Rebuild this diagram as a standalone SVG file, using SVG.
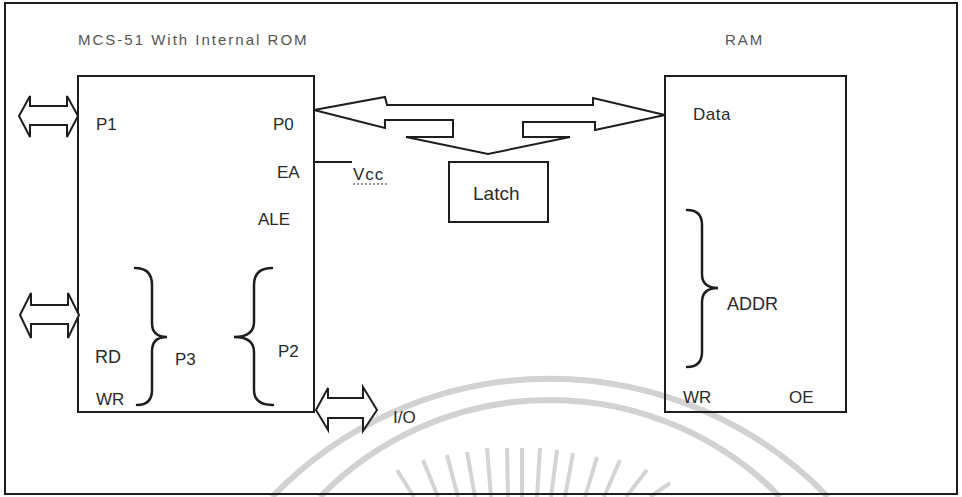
<svg xmlns="http://www.w3.org/2000/svg" width="962" height="497" viewBox="0 0 962 497">
<style>
.box{fill:none;stroke:#1e1e1e;stroke-width:2}
.bus{fill:#fff;stroke:#1e1e1e;stroke-width:2;stroke-linejoin:miter}
.brace{fill:none;stroke:#1e1e1e;stroke-width:2.5;stroke-linecap:round}
.wire{fill:none;stroke:#1e1e1e;stroke-width:2}
.wm{fill:none;stroke:#d2d2d2;stroke-width:6}
.sp{stroke:#d4d4d4;stroke-width:4}
text{font-family:"Liberation Sans",Arial,sans-serif;fill:#2a2a2a;font-size:17px}
.ttl{font-size:15px;letter-spacing:2px;fill:#555}
</style>
<rect width="962" height="497" fill="#fff"/>
<g id="watermark">
<path class="wm" d="M 272 497 A 386 386 0 0 1 828 497"/>
<path class="wm" d="M 320 497 A 321 321 0 0 1 780 497"/>
<line class="sp" x1="397" y1="470" x2="414" y2="497"/>
<line class="sp" x1="423" y1="460" x2="438" y2="497"/>
<line class="sp" x1="447" y1="455" x2="458" y2="497"/>
<line class="sp" x1="467" y1="452" x2="475" y2="497"/>
<line class="sp" x1="487" y1="448" x2="491" y2="497"/>
<line class="sp" x1="507" y1="448" x2="508" y2="497"/>
<line class="sp" x1="522" y1="448" x2="522" y2="497"/>
<line class="sp" x1="540" y1="448" x2="537" y2="497"/>
<line class="sp" x1="557" y1="450" x2="551" y2="497"/>
<line class="sp" x1="573" y1="453" x2="565" y2="497"/>
<line class="sp" x1="597" y1="457" x2="585" y2="497"/>
<line class="sp" x1="620" y1="460" x2="604" y2="497"/>
<line class="sp" x1="647" y1="470" x2="626" y2="497"/>
<line class="sp" x1="670" y1="483" x2="650" y2="497"/>
</g>
<rect id="frame" class="box" x="5" y="3" width="952" height="491"/>
<g id="mcs51">
<text class="ttl" x="78" y="45">MCS-51 With Internal ROM</text>
<rect class="box" x="78" y="76" width="236" height="336"/>
<text x="96" y="130">P1</text>
<text x="273" y="130">P0</text>
<text x="277" y="178">EA</text>
<text x="258" y="225">ALE</text>
<text x="95" y="363" style="font-size:18px">RD</text>
<text x="96" y="405">WR</text>
<text x="175" y="365">P3</text>
<text x="278" y="357">P2</text>
<path class="brace" d="M135,268 Q152,268 152,285 L152,323 Q152,337 167,337 Q152,337 152,351 L152,390 Q152,405 137,405"/>
<path class="brace" d="M272,268 Q254,268 254,285 L254,322 Q254,337 234,337 Q254,337 254,352 L254,390 Q254,405 273,405"/>
</g>
<g id="ram">
<text class="ttl" x="725" y="45">RAM</text>
<rect class="box" x="665" y="76" width="181" height="336"/>
<text x="693" y="120" style="letter-spacing:0.5px">Data</text>
<text x="727" y="310" style="font-size:18px">ADDR</text>
<text x="683" y="403">WR</text>
<text x="789" y="403">OE</text>
<path class="brace" d="M687,210 Q702,210 702,225 L702,274 Q702,288 718,288 Q702,288 702,302 L702,352 Q702,367 687,367"/>
</g>
<g id="latch">
<rect class="box" x="449" y="162" width="99" height="60"/>
<text x="473" y="200" style="font-size:19px">Latch</text>
</g>
<g id="vcc">
<text x="353" y="180" style="letter-spacing:1px">Vcc</text>
<line x1="353" y1="184" x2="387" y2="184" stroke="#777" stroke-width="1.5" stroke-dasharray="2,2"/>
</g>
<g id="io">
<text x="393" y="423">I/O</text>
</g>
<g id="connectors">
<polygon class="bus" points="314,110 385,97 387,105 593,105 593,98 665,115 595,130 595,122 523,122 523,137 570,137 488,154 406,137 453,137 453,120 385,120 385,128"/>
<polygon class="bus" points="19,116 30,96 30,106 67,106 67,96 78,116 67,137 67,125 30,125 30,137"/>
<polygon class="bus" points="20,315 31,293 31,305 68,305 68,293 79,315 68,338 68,324 31,324 31,338"/>
<polygon class="bus" points="316,410 328,388 328,398 363,398 363,387 377,410 363,431 363,418 328,418 328,430"/>
<line class="wire" x1="314" y1="162" x2="352" y2="162"/>
</g>
</svg>
